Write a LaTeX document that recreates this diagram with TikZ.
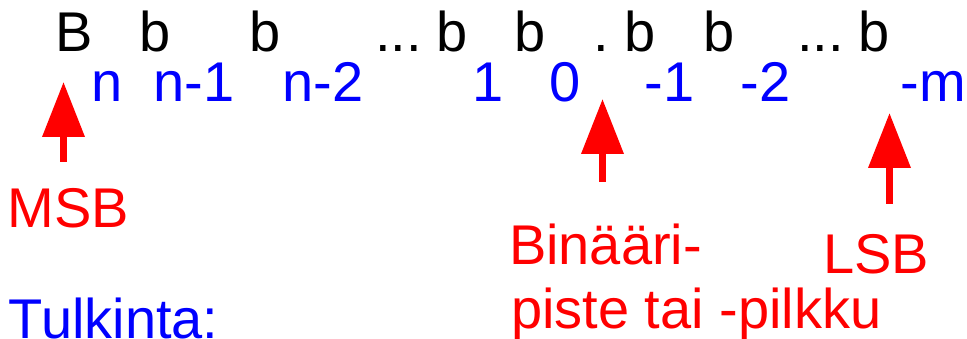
\documentclass[tikz,border=0pt]{standalone}
\usepackage{fontspec}
\setmainfont{Liberation Sans}
\usetikzlibrary{arrows.meta}
\definecolor{pred}{RGB}{255,0,0}
\definecolor{pblue}{RGB}{0,0,255}
\begin{document}
\begin{tikzpicture}[x=1pt,y=-1pt,
  txt/.style={anchor=base west,inner sep=0pt,outer sep=0pt,font=\fontsize{56}{63}\selectfont},
  bit/.style={txt,text=black},
  idx/.style={txt,text=pblue},
  lbl/.style={txt,text=pred,align=left},
  pointer/.style={draw=pred,line width=7pt,-{Triangle[length=55pt,width=41pt,fill=pred]}}]
\useasboundingbox (0,0) rectangle (967,339);
% top row
\node[bit] (B)  at (55,52) {B};
\node[bit] (b1) at (139.5,52) {b};
\node[bit] (b2) at (249.5,52) {b};
\node[bit] (d1) at (375,52) {...};
\node[bit] (b3) at (436.5,52) {b};
\node[bit] (b4) at (514.5,52) {b};
\node[bit] (pt) at (593,52) {.};
\node[bit] (b5) at (624.5,52) {b};
\node[bit] (b6) at (703.5,52) {b};
\node[bit] (d2) at (797,52) {...};
\node[bit] (b7) at (858.5,52) {b};
% indices
\node[idx] (in)  at (91.3,102) {n};
\node[idx] (in1) at (153.3,102) {n-1};
\node[idx] (in2) at (282.3,102) {n-2};
\node[idx] (i1)  at (472,102) {1};
\node[idx] (i0)  at (549.6,102) {0};
\node[idx] (im1) at (644.5,102) {-1};
\node[idx] (im2) at (740.5,102) {-2};
\node[idx] (imm) at (900.5,102) {-m};
% labels
\node[lbl] (msb) at (8,228) {MSB};
\node[lbl] (bp1) at (509,265) {Binääri-};
\node[lbl] (bp2) at (511,328) {piste tai -pilkku};
\node[lbl] (lsb) at (823,273) {LSB};
\node[txt,text=pblue] (tulk) at (9,338) {Tulkinta:};
% arrows
\coordinate (msbtail) at (63.5,162);
\coordinate (msbtip) at (63.5,82);
\coordinate (bptail) at (602.5,182);
\coordinate (bptip) at (602.5,99);
\coordinate (lsbtail) at (889.5,204);
\coordinate (lsbtip) at (889.5,113);
\draw[pointer] (msbtail) -- (msbtip);
\draw[pointer] (bptail) -- (bptip);
\draw[pointer] (lsbtail) -- (lsbtip);
\end{tikzpicture}
\end{document}
